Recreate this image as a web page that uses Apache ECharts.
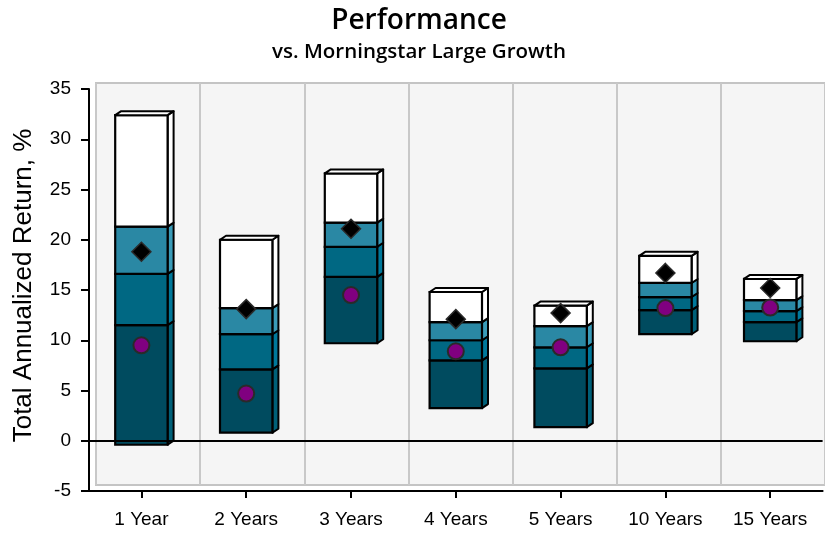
<!DOCTYPE html>
<html>
<head>
<meta charset="utf-8">
<script src="https://cdn.jsdelivr.net/npm/echarts@6/dist/echarts.min.js"></script>
<style>html,body{margin:0;padding:0;background:#fff}#c{width:825px;height:534px}</style>
</head>
<body>
<div id="c"></div>
<script>
const categories = ['1 Year', '2 Years', '3 Years', '4 Years', '5 Years', '10 Years', '15 Years'];
const p95 = [-0.4, 0.8, 9.7, 3.25, 1.35, 10.6, 9.9];
const p75 = [11.5, 7.1, 16.3, 8.0, 7.2, 13.0, 11.8];
const p50 = [16.6, 10.6, 19.3, 10.0, 9.3, 14.3, 12.9];
const p25 = [21.3, 13.2, 21.7, 11.8, 11.4, 15.7, 14.0];
const p5 = [32.4, 20.0, 26.6, 14.8, 13.45, 18.4, 16.1];
const fund = [18.8, 13.1, 21.1, 12.1, 12.7, 16.7, 15.2];
const benchmark = [9.5, 4.7, 14.5, 8.9, 9.3, 13.2, 13.25];
const yTicks = [-5, 0, 5, 10, 15, 20, 25, 30, 35];

const frontColors = ['#004B5F', '#006883', '#2A88A4', '#FFFFFF'];
const sideColors = ['#006078', '#00789A', '#3A9BB8', '#FFFFFF'];

function renderItem(params, api) {
  const i = api.value(0);
  const vals = [api.value(1), api.value(2), api.value(3), api.value(4), api.value(5)];
  const w = api.size([1, 0])[0] * 0.5;
  const cx = api.coord([i, 0])[0];
  const x0 = cx - w / 2, x1 = cx + w / 2;
  const dx = 6, dy = -4;
  const children = [];
  for (let k = 0; k < 4; k++) {
    const yb = api.coord([i, vals[k]])[1];
    const yt = api.coord([i, vals[k + 1]])[1];
    children.push({type: 'polygon', shape: {points: [[x1, yb], [x1 + dx, yb + dy], [x1 + dx, yt + dy], [x1, yt]]},
      style: {fill: sideColors[k], stroke: '#000', lineWidth: 2, lineJoin: 'round'}});
    children.push({type: 'rect', shape: {x: x0, y: yt, width: w, height: yb - yt},
      style: {fill: frontColors[k], stroke: '#000', lineWidth: 2.2}});
  }
  const ytop = api.coord([i, vals[4]])[1];
  children.push({type: 'polygon', shape: {points: [[x0, ytop], [x0 + dx, ytop + dy], [x1 + dx, ytop + dy], [x1, ytop]]},
    style: {fill: '#FFFFFF', stroke: '#000', lineWidth: 2, lineJoin: 'round'}});
  return {type: 'group', children: children};
}

const boxData = categories.map((c, i) => [i, p95[i], p75[i], p50[i], p25[i], p5[i]]);

const chart = echarts.init(document.getElementById('c'), null, {renderer: 'canvas'});
chart.setOption({
  animation: false,
  backgroundColor: '#FFFFFF',
  title: [
    {text: 'Performance', left: 414, top: 2, textAlign: 'center',
      textStyle: {fontFamily: 'Open Sans', fontSize: 28, fontWeight: 600, color: '#000'}},
    {text: 'vs. Morningstar Large Growth', left: 414, top: 37, textAlign: 'center',
      textStyle: {fontFamily: 'Open Sans', fontSize: 20.5, fontWeight: 600, color: '#000'}}
  ],
  grid: [
    {left: 89, top: 89, width: 733.6, height: 402, containLabel: false},
    {left: 96, top: 83, width: 740, height: 402, show: true, backgroundColor: '#F5F5F5',
      borderColor: '#C4C4C4', borderWidth: 2, z: -1}
  ],
  xAxis: [
    {type: 'category', data: categories, gridIndex: 0, position: 'bottom',
      axisLine: {show: true, onZero: false, lineStyle: {color: '#000', width: 2}},
      axisTick: {show: true, alignWithLabel: true, length: 7, lineStyle: {color: '#000', width: 2}},
      axisLabel: {fontFamily: 'Liberation Sans', fontSize: 19, color: '#000', margin: 19},
      splitLine: {show: false}, z: 10},
    {type: 'category', data: categories, gridIndex: 1,
      boundaryGap: true,
      axisLine: {show: false}, axisTick: {show: false}, axisLabel: {show: false},
      splitLine: {show: true, lineStyle: {color: '#C8C8C8', width: 2}}}
  ],
  yAxis: [
    {type: 'value', gridIndex: 0, min: -5, max: 35, interval: 5,
      name: 'Total Annualized Return, %', nameLocation: 'middle', nameGap: 52,
      nameTextStyle: {fontFamily: 'Liberation Sans', fontSize: 26, color: '#000', padding: [0, 0, 0, 9]},
      axisLine: {show: true, onZero: false, lineStyle: {color: '#000', width: 2}},
      axisTick: {show: true, length: 8, lineStyle: {color: '#000', width: 2}},
      axisLabel: {fontFamily: 'Liberation Sans', fontSize: 19, color: '#000', margin: 18,
        formatter: v => (yTicks.indexOf(v) >= 0 ? String(v) : '')},
      splitLine: {show: false}},
    {type: 'value', gridIndex: 1, min: -5, max: 35, show: false, splitLine: {show: false}}
  ],
  series: [
    {type: 'custom', xAxisIndex: 0, yAxisIndex: 0, renderItem: renderItem, data: boxData,
      encode: {x: 0, y: [1, 2, 3, 4, 5]}, z: 2, clip: false},
    {type: 'scatter', name: 'Fund', xAxisIndex: 0, yAxisIndex: 0, data: fund, symbol: 'diamond', symbolSize: [19, 19],
      itemStyle: {color: '#000', borderColor: '#2a2a2a', borderWidth: 1.5, opacity: 1}, z: 5,
      markLine: {silent: true, symbol: 'none', label: {show: false},
        lineStyle: {color: '#000', width: 2, type: 'solid', opacity: 1}, data: [{yAxis: 0}]}},
    {type: 'scatter', name: 'Benchmark', xAxisIndex: 0, yAxisIndex: 0, data: benchmark, symbol: 'circle', symbolSize: 16,
      itemStyle: {color: '#800080', borderColor: '#2a2a2a', borderWidth: 2, opacity: 1}, z: 5}
  ]
});
</script>
</body>
</html>
